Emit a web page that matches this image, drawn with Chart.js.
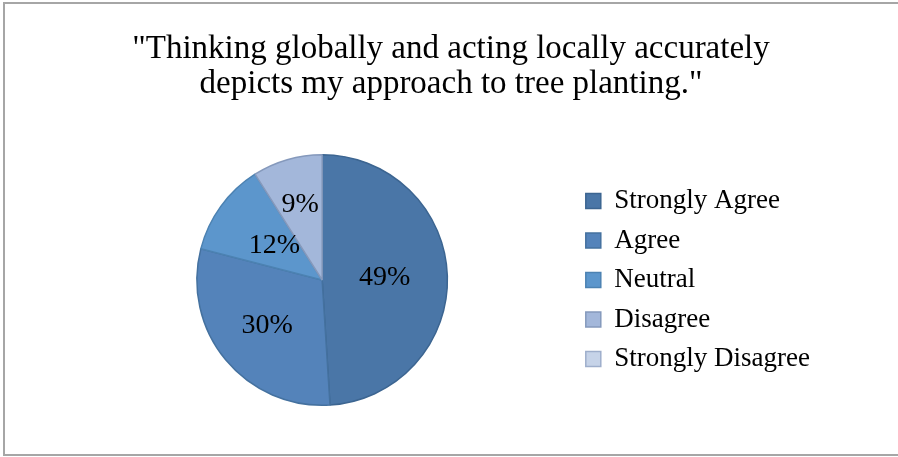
<!DOCTYPE html>
<html>
<head>
<meta charset="utf-8">
<script src="https://cdn.jsdelivr.net/npm/chart.js@4/dist/chart.umd.min.js"></script>
<style>
  html, body { margin: 0; padding: 0; background: #fff; }
  #wrap { position: relative; width: 898px; height: 457px; }
</style>
</head>
<body>
<div id="wrap"><canvas id="c" width="898" height="457"></canvas></div>
<script>
const titleLines = ['"Thinking globally and acting locally accurately', 'depicts my approach to tree planting."'];
const categories = ['Strongly Agree', 'Agree', 'Neutral', 'Disagree', 'Strongly Disagree'];
const values = [49, 30, 12, 9, 0];
const percentLabels = ['49%', '30%', '12%', '9%', '0%'];
const sliceColors = ['#4A76A7', '#5483BA', '#5C96CC', '#A3B7DA', '#C6D3E8'];
const sliceBorders = ['#3C6591', '#44719F', '#4C82B2', '#8599BC', '#9EAECB'];
const labelRadius = [0.5, 0.57, 0.47, 0.63, 0.5];

const frame = {
  id: 'frame',
  afterLayout(chart) {
    if (chart.titleBlock) {
      chart.titleBlock.left = 82;
    }
  },
  beforeDraw(chart) {
    const ctx = chart.ctx;
    ctx.save();
    ctx.fillStyle = '#ffffff';
    ctx.fillRect(0, 0, chart.width, chart.height);
    ctx.strokeStyle = '#a6a6a6';
    ctx.lineWidth = 2;
    ctx.strokeRect(4, 3, chart.width + 10, chart.height - 5);
    ctx.restore();
  }
};

const sliceLabels = {
  id: 'sliceLabels',
  afterDatasetsDraw(chart) {
    const ctx = chart.ctx;
    const meta = chart.getDatasetMeta(0);
    ctx.save();
    ctx.font = '28px "Liberation Serif", serif';
    ctx.fillStyle = '#000';
    ctx.textAlign = 'center';
    ctx.textBaseline = 'middle';
    meta.data.forEach((arc, i) => {
      if (!values[i]) return;
      const p = arc.getProps(['x', 'y', 'startAngle', 'endAngle', 'outerRadius'], true);
      const mid = (p.startAngle + p.endAngle) / 2;
      const r = p.outerRadius * labelRadius[i];
      ctx.fillText(percentLabels[i], p.x + Math.cos(mid) * r, p.y + Math.sin(mid) * r);
    });
    ctx.restore();
  }
};

new Chart(document.getElementById('c'), {
  type: 'pie',
  data: {
    labels: categories,
    datasets: [{
      data: values,
      backgroundColor: sliceColors,
      borderColor: sliceBorders,
      borderWidth: 1.5
    }]
  },
  options: {
    responsive: false,
    animation: false,
    layout: { padding: { left: 71, right: 78, top: 0, bottom: 51 } },
    plugins: {
      title: {
        display: true,
        text: titleLines,
        color: '#000',
        font: { family: '"Liberation Serif", serif', size: 33, weight: 'normal', lineHeight: 1.06 },
        padding: { top: 32, bottom: 52 }
      },
      legend: {
        display: true,
        position: 'right',
        fullSize: false,
        labels: {
          color: '#000',
          font: { family: '"Liberation Serif", serif', size: 27 },
          boxWidth: 15,
          boxHeight: 15,
          padding: 12.5
        }
      },
      tooltip: { enabled: false }
    }
  },
  plugins: [frame, sliceLabels]
});
</script>
</body>
</html>
